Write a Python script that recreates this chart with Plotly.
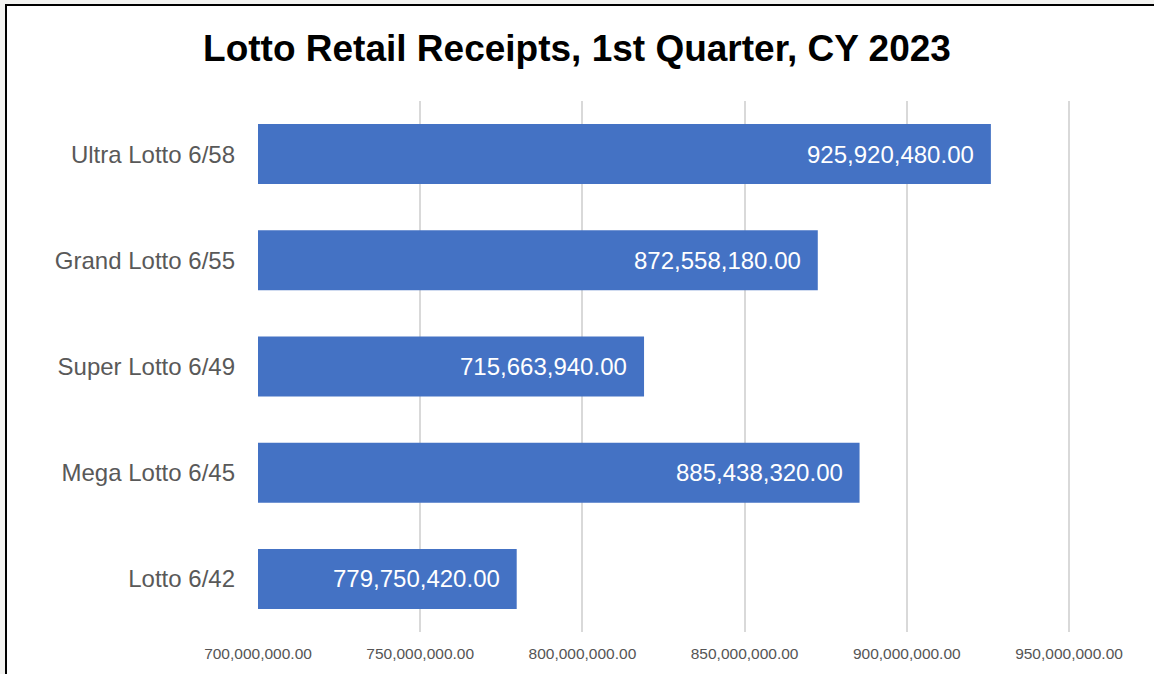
import plotly.graph_objects as go

categories = ["Lotto 6/42", "Mega Lotto 6/45", "Super Lotto 6/49", "Grand Lotto 6/55", "Ultra Lotto 6/58"]
# bar lengths as drawn in the picture
bar_values = [779750420, 885438320, 819000000, 872558180, 925920480]
# labels printed on the bars
bar_labels = ["779,750,420.00", "885,438,320.00", "715,663,940.00", "872,558,180.00", "925,920,480.00"]
tick_values = [700000000, 750000000, 800000000, 850000000, 900000000, 950000000]
tick_labels = ["700,000,000.00", "750,000,000.00", "800,000,000.00", "850,000,000.00", "900,000,000.00", "950,000,000.00"]
x_min, x_last_tick = 700000000, 950000000

W, H = 1154, 674
ML, MR, MT, MB = 258, 79, 101, 42
pw = W - ML - MR
ph = H - MT - MB
FONT = "Liberation Sans, Arial"
# 700M at px 258, 950M at px 1069
units_per_px = (x_last_tick - x_min) / (1069 - 258)
x_max = x_min + units_per_px * pw

def px_x(p):
    return (p - ML) / pw

def px_y(p):
    return (H - MB - p) / ph

fig = go.Figure(go.Bar(
    x=bar_values, y=categories, orientation="h",
    marker=dict(color="#4472c4", line=dict(width=0)),
    hoverinfo="x+y",
))

annotations = [
    dict(x=v, y=c, xref="x", yref="y", text=t, showarrow=False,
         xanchor="right", yanchor="middle", xshift=-15,
         font=dict(color="white", size=24, family=FONT))
    for v, c, t in zip(bar_values, categories, bar_labels)
]

fig.update_layout(
    width=W, height=H,
    margin=dict(l=ML, r=MR, t=MT, b=MB),
    paper_bgcolor="#f3f3f1", plot_bgcolor="white",
    bargap=0.435,
    showlegend=False,
    title=dict(text="<b>Lotto Retail Receipts, 1st Quarter, CY 2023</b>",
               x=0.5, xref="container", xanchor="center",
               y=1 - 48 / H, yref="container", yanchor="middle",
               font=dict(size=37, color="black", family=FONT)),
    xaxis=dict(range=[x_min, x_max], tickvals=tick_values, ticktext=tick_labels,
               showgrid=True, gridcolor="#d9d9d9", gridwidth=2, zeroline=False,
               showline=False, ticks="", ticklabelstandoff=10,
               tickfont=dict(size=15.5, color="#555555", family=FONT)),
    yaxis=dict(showgrid=False, zeroline=False, showline=False, ticks="",
               ticklabelstandoff=22,
               tickfont=dict(size=24, color="#595959", family=FONT)),
    annotations=annotations,
    shapes=[dict(type="rect", xref="paper", yref="paper", layer="below",
                 x0=px_x(6), x1=px_x(1170), y0=px_y(700), y1=px_y(5),
                 fillcolor="white", line=dict(color="black", width=2))],
)

fig.write_html("out.html", config={"displayModeBar": False},
               post_script="document.body.style.margin='0';document.body.style.overflow='hidden';")
